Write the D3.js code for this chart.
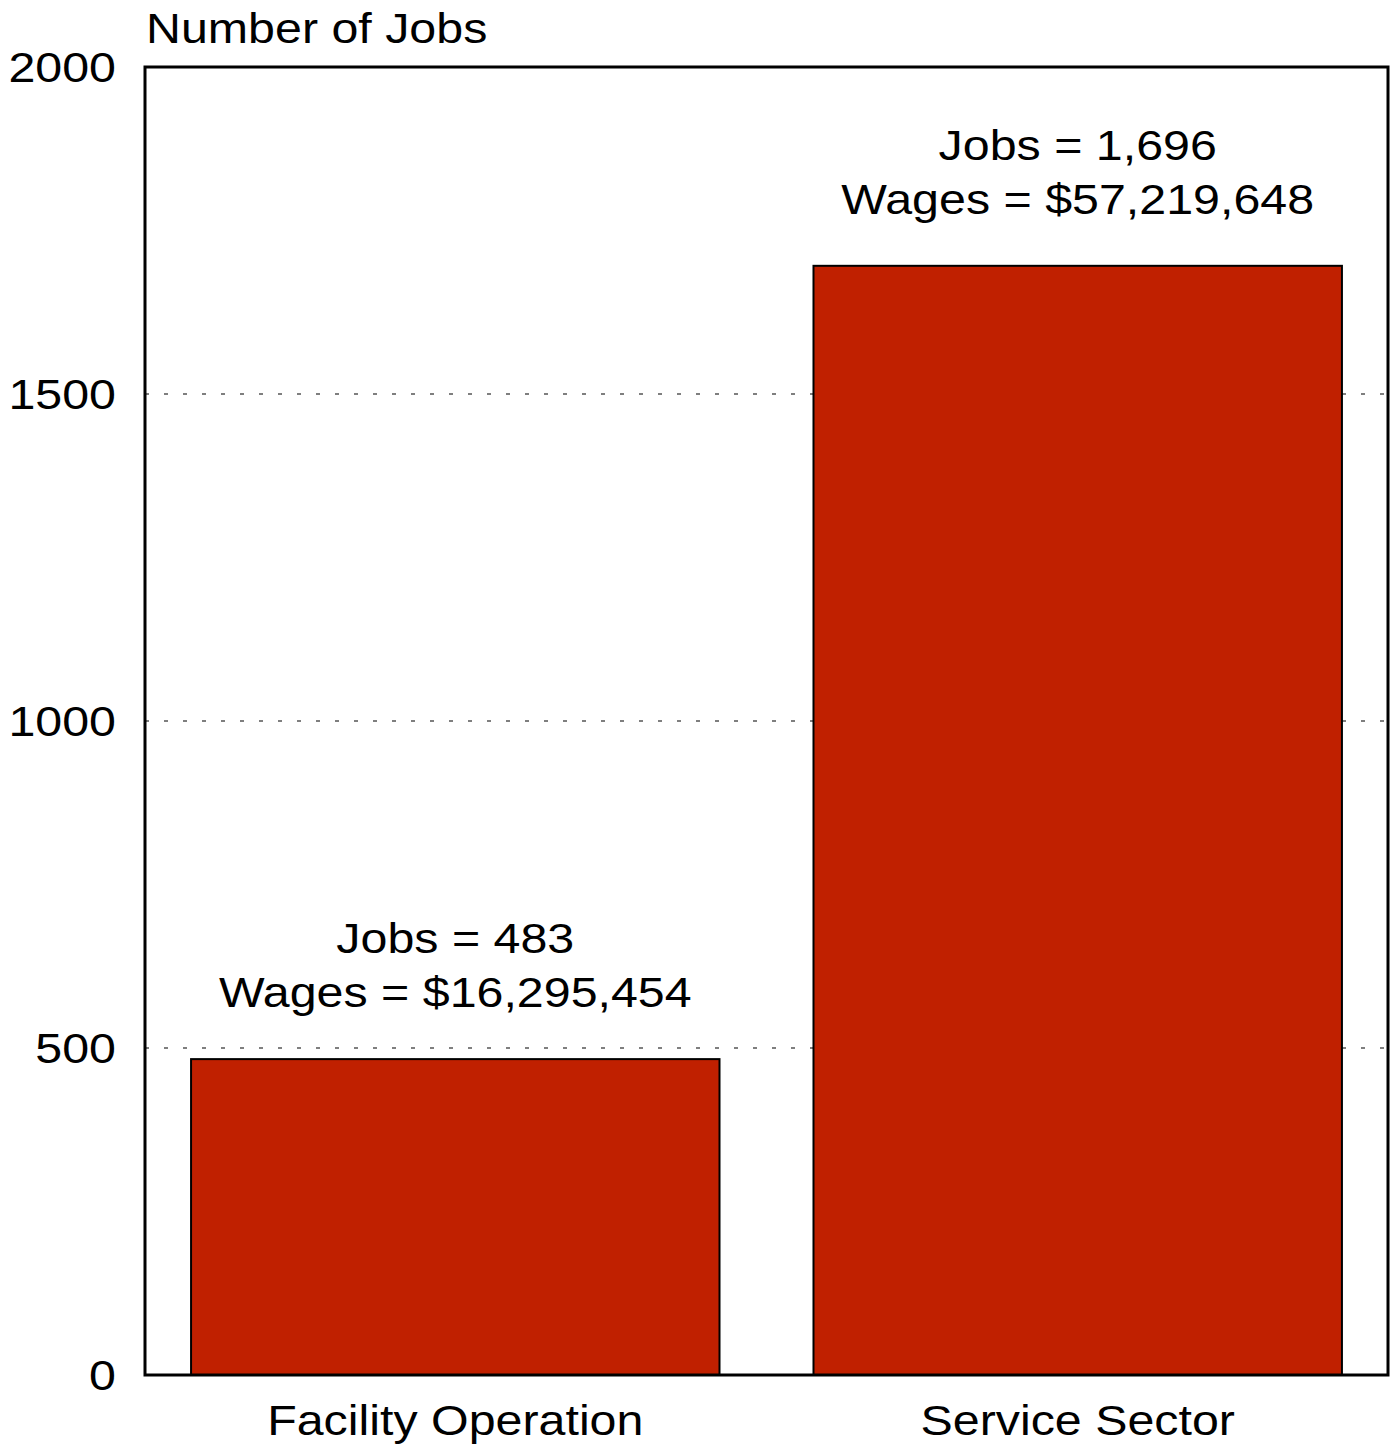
<!DOCTYPE html>
<html>
<head>
<meta charset="utf-8">
<script src="https://cdn.jsdelivr.net/npm/d3@7"></script>
<style>
  html, body { margin: 0; padding: 0; background: #fff; }
  svg { display: block; font-family: "Liberation Sans", Arial, Helvetica, sans-serif; }
</style>
</head>
<body>
<svg id="chart" width="1397" height="1447"></svg>
<script>
// Jobs and wages by category
const categories = ["Facility Operation", "Service Sector"];
const jobs = [483, 1696];
const wages = ["$16,295,454", "$57,219,648"];
const jobLabels = ["483", "1,696"];
const yTicks = [0, 500, 1000, 1500, 2000];
const yTitle = "Number of Jobs";

const svg = d3.select("#chart");
const plot = { left: 145, right: 1388, top: 67, bottom: 1375 };
const FONT = 43;      // glyph height
const WIDEN = 1.125;  // glyphs are drawn a little wider than tall

// place a text at (px, py) with the horizontal widening applied around its anchor
function placed(sel, px, py) {
  return sel.attr("transform", `translate(${px},${py}) scale(${WIDEN},1)`);
}

const x = d3.scaleBand()
  .domain(categories)
  .range([plot.left, plot.right])
  .paddingInner(0.151)
  .paddingOuter(0.074);

const y = d3.scaleLinear()
  .domain([0, 2000])
  .range([plot.bottom, plot.top]);

// dotted horizontal gridlines
svg.append("g")
  .selectAll("line")
  .data(yTicks.filter(t => t > 0 && t < 2000))
  .join("line")
  .attr("x1", plot.left)
  .attr("x2", plot.right)
  .attr("y1", d => y(d))
  .attr("y2", d => y(d))
  .attr("stroke", "#555")
  .attr("stroke-width", 1.4)
  .attr("stroke-dasharray", "4,15");

// bars
svg.append("g")
  .selectAll("rect")
  .data(categories)
  .join("rect")
  .attr("x", d => x(d))
  .attr("width", x.bandwidth())
  .attr("y", (d, i) => y(jobs[i]))
  .attr("height", (d, i) => y(0) - y(jobs[i]))
  .attr("fill", "#C02000")
  .attr("stroke", "#000")
  .attr("stroke-width", 2);

// value annotations above each bar
const ann = svg.append("g")
  .attr("font-size", FONT)
  .attr("text-anchor", "middle")
  .attr("fill", "#000");

categories.forEach((c, i) => {
  const cx = x(c) + x.bandwidth() / 2;
  const top = y(jobs[i]);
  placed(ann.append("text"), cx, top - 106).text("Jobs = " + jobLabels[i]);
  placed(ann.append("text"), cx, top - 52).text("Wages = " + wages[i]);
});

// y axis labels
const yl = svg.append("g")
  .attr("font-size", FONT)
  .attr("text-anchor", "end");
yTicks.forEach(t => {
  placed(yl.append("text"), 116, y(t)).attr("dy", "0.35em").text(t);
});

// x category labels
const xl = svg.append("g")
  .attr("font-size", FONT)
  .attr("text-anchor", "middle");
categories.forEach(c => {
  placed(xl.append("text"), x(c) + x.bandwidth() / 2, 1435).text(c);
});

// y axis title
placed(svg.append("text").attr("font-size", FONT), 146, 43).text(yTitle);

// plot frame
svg.append("rect")
  .attr("x", plot.left)
  .attr("y", plot.top)
  .attr("width", plot.right - plot.left)
  .attr("height", plot.bottom - plot.top)
  .attr("fill", "none")
  .attr("stroke", "#000")
  .attr("stroke-width", 3);
</script>
</body>
</html>
